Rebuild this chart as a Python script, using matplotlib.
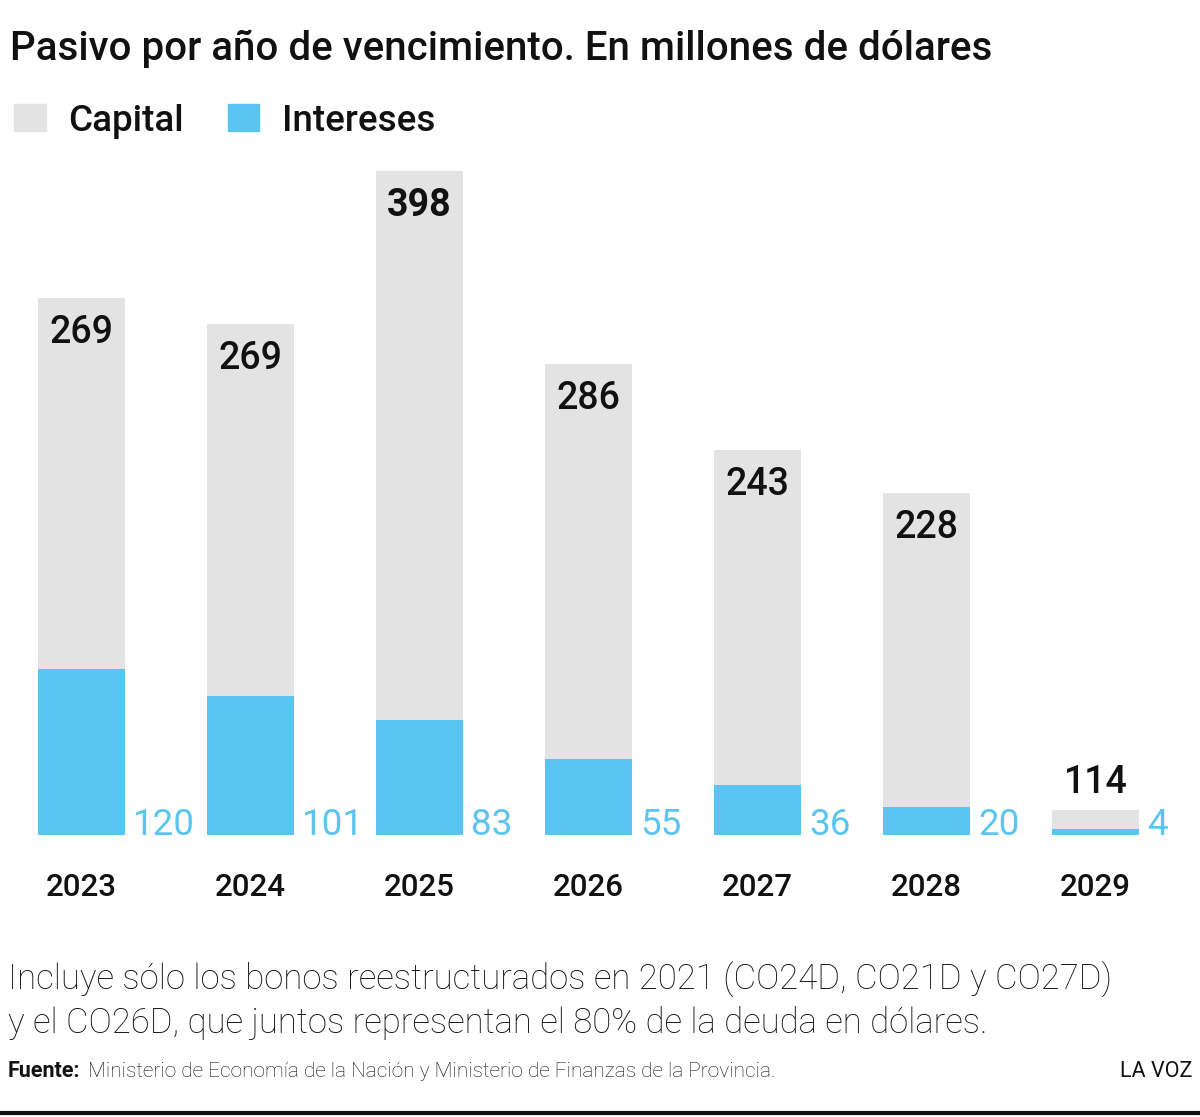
import matplotlib
matplotlib.use("Agg")
import matplotlib.pyplot as plt

# data (millions of USD)
years = ["2023", "2024", "2025", "2026", "2027", "2028", "2029"]
capital = [269, 269, 398, 286, 243, 228, 114]
interest = [120, 101, 83, 55, 36, 20, 4]
# the 2029 bar in the original is drawn much shorter than its label (~14)
capital_drawn = [269, 269, 398, 286, 243, 228, 14]

GRAY = "#E3E3E3"
BLUE = "#5BC5F2"

plt.rcParams["font.family"] = ["Roboto", "DejaVu Sans"]

W, H = 1200, 1117
fig = plt.figure(figsize=(W / 100, H / 100), dpi=100)


def ftext(x, y, s, **kw):
    # pixel coords from top-left
    return fig.text(x / W, 1 - y / H, s, **kw)


# axes: baseline at y=835 px, 1.38 px per unit
base_px, top_px = 835, 150
scale = 1.38
ax = fig.add_axes([0, 1 - base_px / H, 1, (base_px - top_px) / H])
step = 169
ax.set_xlim(-81.5 / step, (W - 81.5) / step)
ax.set_ylim(0, (base_px - top_px) / scale)
ax.axis("off")

x = list(range(len(years)))
width = 87 / step
totals = [c + i for c, i in zip(capital_drawn, interest)]
ax.bar(x, totals, width=width, color=GRAY, zorder=1)
ax.bar(x, interest, width=width, color=BLUE, zorder=2)

for i, yr in enumerate(years):
    tot = totals[i]
    bold = capital[i] == max(capital)
    if tot * scale > 80:
        ax.annotate(str(capital[i]), (i, tot), xytext=(0, -16), textcoords="offset pixels",
                    ha="center", va="top", fontsize=27,
                    fontweight="bold" if bold else "medium", color="#111111")
    else:
        ax.annotate(str(capital[i]), (i, tot), xytext=(0, 17), textcoords="offset pixels",
                    ha="center", va="baseline", fontsize=27, fontweight="medium",
                    color="#111111")
    ax.annotate(str(interest[i]), (i + width / 2, 0), xytext=(8, 0), textcoords="offset pixels",
                ha="left", va="baseline", fontsize=26.5, fontweight="normal", color=BLUE)
    ax.annotate(yr, (i, 0), xytext=(0, -61), textcoords="offset pixels",
                ha="center", va="baseline", fontsize=22.5, fontweight="medium", color="#111111")

# title and legend
ftext(10, 60, "Pasivo por año de vencimiento. En millones de dólares",
      fontsize=29, fontweight="medium", color="#111111", va="baseline")
fig.patches.append(plt.Rectangle((14 / W, 1 - 131 / H), 32 / W, 27 / H,
                                 transform=fig.transFigure, color=GRAY))
ftext(68, 131, "Capital", fontsize=26.5, fontweight="medium", color="#111111", va="baseline")
fig.patches.append(plt.Rectangle((228 / W, 1 - 131 / H), 31 / W, 27 / H,
                                 transform=fig.transFigure, color=BLUE))
ftext(282, 131, "Intereses", fontsize=26.5, fontweight="medium", color="#111111", va="baseline")

# footnote
ftext(8, 990, "Incluye sólo los bonos reestructurados en 2021 (CO24D, CO21D y CO27D)",
      fontsize=25, fontweight="light", color="#111111", va="baseline")
ftext(8, 1033, "y el CO26D, que juntos representan el 80% de la deuda en dólares.",
      fontsize=25, fontweight="light", color="#111111", va="baseline")

ftext(8, 1077, "Fuente:", fontsize=15.5, fontweight="bold", color="#111111", va="baseline")
ftext(88, 1077, "Ministerio de Economía de la Nación y Ministerio de Finanzas de la Provincia.",
      fontsize=15, fontweight="light", color="#111111", va="baseline")
ftext(1192, 1077, "LA VOZ", fontsize=15.5, color="#111111", va="baseline", ha="right")
fig.lines.append(plt.Line2D([0, 1], [1 - 1113 / H] * 2, transform=fig.transFigure,
                            color="#111111", lw=3))

fig.savefig("out.png", dpi=100, facecolor="white")
